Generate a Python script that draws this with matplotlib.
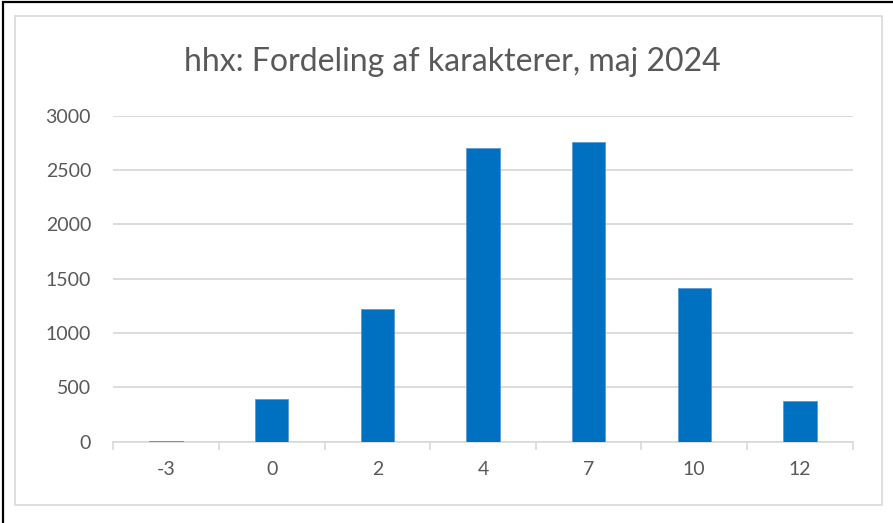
import matplotlib.pyplot as plt
from matplotlib.patches import Rectangle
import numpy as np

grades = ['-3', '0', '2', '4', '7', '10', '12']
counts = [10, 390, 1218, 2699, 2760, 1417, 374]
yticks = [0, 500, 1000, 1500, 2000, 2500, 3000]

W, H = 893, 523
fig = plt.figure(figsize=(W / 100, H / 100), dpi=100)
plt.rcParams['font.family'] = ['Lato', 'DejaVu Sans']
text_col = '#595959'
grid_col = '#d9d9d9'

# outer black frame (cropped at right/bottom) and inner grey chart border
fig.patches.append(Rectangle((3 / W, -0.1), 1.2, 1 - 2 / H + 0.1, transform=fig.transFigure,
                             fill=False, edgecolor='black', linewidth=1.6))
fig.patches.append(Rectangle((15 / W, 1 - 505 / H), (882 - 15) / W, (505 - 16) / H,
                             transform=fig.transFigure, fill=False, edgecolor=grid_col, linewidth=1.2))

ax = fig.add_axes([113.3 / W, 1 - 441.7 / H, (852.7 - 113.3) / W, (441.7 - 115.7) / H])
x = np.arange(len(grades))
ax.bar(x, counts, width=0.315, color='#0070c0', edgecolor='#5b9bd5', linewidth=0.6, zorder=3)

ax.set_xlim(-0.5, len(grades) - 0.5)
ax.set_ylim(0, 3000)
ax.set_yticks(yticks)
ax.set_yticklabels([str(v) for v in yticks], fontsize=14, color=text_col)
ax.yaxis.grid(True, color=grid_col, linewidth=1.3, zorder=0)
ax.tick_params(axis='y', length=0, pad=16)

ax.set_xticks(np.arange(-0.5, len(grades)), minor=False)
ax.set_xticklabels([])
ax.set_xticks(x, minor=True)
ax.set_xticklabels(grades, minor=True, fontsize=14, color=text_col)
ax.tick_params(axis='x', which='major', length=6, color=grid_col, width=1.2, direction='out')
ax.tick_params(axis='x', which='minor', length=0, pad=14)

for s in ['top', 'right', 'left']:
    ax.spines[s].set_visible(False)
ax.spines['bottom'].set_color(grid_col)
ax.spines['bottom'].set_linewidth(1.2)

fig.text(452 / W, 1 - 62 / H, 'hhx: Fordeling af karakterer, maj 2024', ha='center', va='center',
         fontsize=23, color=text_col)

fig.savefig('out.png', dpi=100)
